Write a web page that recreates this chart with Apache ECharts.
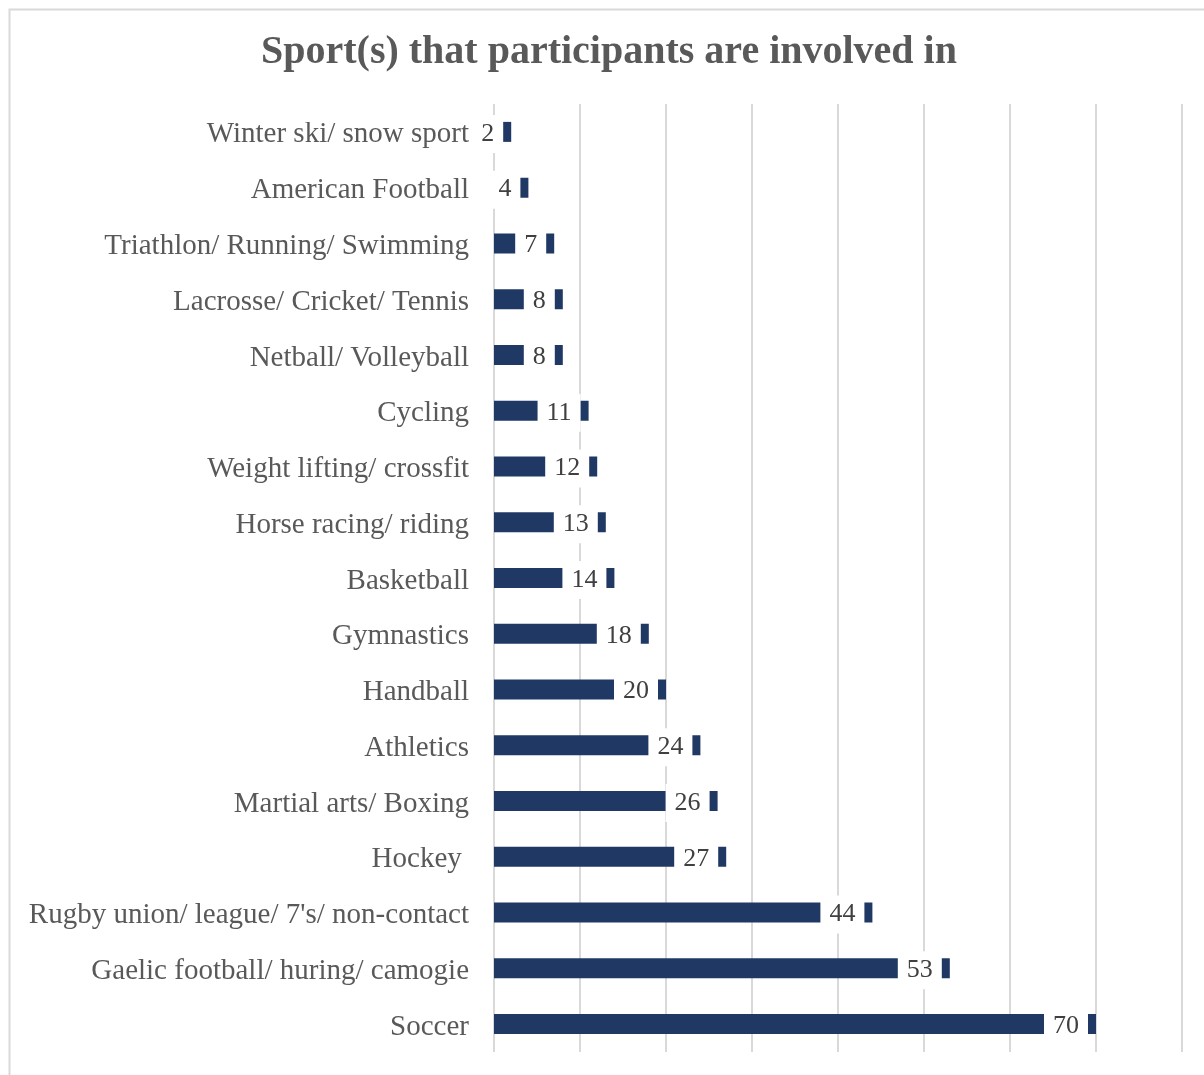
<!DOCTYPE html>
<html>
<head>
<meta charset="utf-8">
<title>Sport(s) that participants are involved in</title>
<script src="https://cdn.jsdelivr.net/npm/echarts@6/dist/echarts.min.js"></script>
<style>
  html, body { margin: 0; padding: 0; background: #ffffff; }
  #chart { width: 1204px; height: 1075px; }
</style>
</head>
<body>
<div id="chart"></div>
<script>
// Sports listed from top row to bottom row
const sports = [
  "Winter ski/ snow sport",
  "American Football",
  "Triathlon/ Running/ Swimming",
  "Lacrosse/ Cricket/ Tennis",
  "Netball/ Volleyball",
  "Cycling",
  "Weight lifting/ crossfit",
  "Horse racing/ riding",
  "Basketball",
  "Gymnastics",
  "Handball",
  "Athletics",
  "Martial arts/ Boxing",
  "Hockey ",
  "Rugby union/ league/ 7's/ non-contact",
  "Gaelic football/ huring/ camogie",
  "Soccer"
];

// Number of participants per sport
const participants = [2, 4, 7, 8, 8, 11, 12, 13, 14, 18, 20, 24, 26, 27, 44, 53, 70];

const titleText = "Sport(s) that participants are involved in";

const serif = "'Liberation Serif', 'DejaVu Serif', serif";

const chart = echarts.init(document.getElementById('chart'), null, { renderer: 'canvas' });

chart.setOption({
  backgroundColor: '#ffffff',
  animation: false,
  title: {
    text: titleText,
    left: 604,
    textAlign: 'center',
    top: 28,
    textStyle: {
      fontFamily: serif,
      fontWeight: 'bold',
      fontSize: 40,
      color: '#595959'
    }
  },
  graphic: [{
    type: 'rect',
    left: 7,
    top: 7,
    shape: { width: 1220, height: 1090 },
    style: { fill: 'none', stroke: '#d9d9d9', lineWidth: 2 },
    silent: true
  }],
  grid: {
    left: 494,
    right: 22,
    top: 104,
    bottom: 23
  },
  xAxis: {
    type: 'value',
    min: 0,
    max: 80,
    interval: 10,
    axisLine: { show: false },
    axisTick: { show: false },
    axisLabel: { show: false },
    splitLine: { show: true, lineStyle: { color: '#d9d9d9', width: 2 } }
  },
  yAxis: {
    type: 'category',
    inverse: true,
    data: sports,
    axisLine: { show: false },
    axisTick: { show: false },
    axisLabel: {
      margin: 25,
      formatter: (v) => '{n|' + v + '}',
      rich: {
        n: {
          fontFamily: serif,
          fontSize: 29,
          color: '#595959',
          padding: [6, 0, 0, 0]
        }
      }
    }
  },
  series: [{
    type: 'bar',
    data: participants,
    barWidth: 20,
    itemStyle: { color: '#203864' },
    label: {
      show: true,
      position: 'insideRight',
      distance: 8,
      offset: [0, 2],
      backgroundColor: '#ffffff',
      padding: [6, 9],
      fontFamily: serif,
      fontSize: 26,
      color: '#404040'
    }
  }]
});
</script>
</body>
</html>
